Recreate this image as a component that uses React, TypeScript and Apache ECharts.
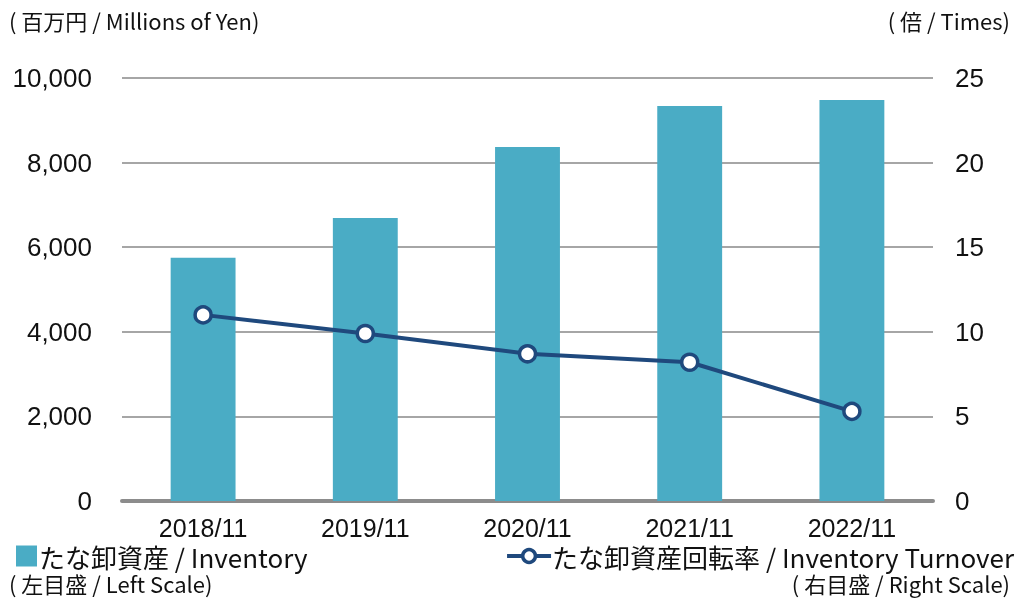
import React, { useEffect, useRef } from "react";
import * as echarts from "echarts";

const categories = ["2018/11", "2019/11", "2020/11", "2021/11", "2022/11"];
const inventory = [5750, 6690, 8370, 9340, 9480];
const turnover = [11.0, 9.9, 8.7, 8.2, 5.3];
const leftTicks = [0, 2000, 4000, 6000, 8000, 10000];
const rightTicks = [0, 5, 10, 15, 20, 25];

const barName = "たな卸資産 / Inventory";
const lineName = "たな卸資産回転率 / Inventory Turnover";
const jpFont = "'Noto Sans CJK JP', 'Noto Sans', sans-serif";
const numFont = "'Liberation Sans', Arial, sans-serif";

export default function App() {
  const ref = useRef<HTMLDivElement>(null);
  useEffect(() => {
    if (!ref.current) return;
    const chart = echarts.init(ref.current, null, { renderer: "svg" });
    chart.setOption({
      animation: false,
      grid: { left: 122, right: 82, top: 78, bottom: 97, containLabel: false },
      legend: [
        {
          data: [barName],
          left: 16,
          top: 543,
          padding: 0,
          itemWidth: 21,
          itemHeight: 21,
          icon: "rect",
          textStyle: { fontSize: 26, lineHeight: 24, color: "#111", fontFamily: jpFont, padding: [0, 0, 0, -3] },
          selectedMode: false,
        },
        {
          data: [lineName],
          right: 1,
          top: 543,
          padding: 0,
          itemWidth: 44,
          itemHeight: 16,
          lineStyle: { width: 4, color: "#1f497d" },
          itemStyle: { color: "#fff", borderColor: "#1f497d", borderWidth: 3.5 },
          textStyle: { fontSize: 26, lineHeight: 24, color: "#111", fontFamily: jpFont, padding: [0, 0, 0, -4] },
          selectedMode: false,
        },
      ],
      graphic: [
        { type: "text", left: 9, top: 9, style: { text: "( 百万円 / Millions of Yen)", fontSize: 22, fill: "#111", fontFamily: jpFont } },
        { type: "text", right: 5, top: 9, style: { text: "( 倍 / Times)", fontSize: 22, fill: "#111", fontFamily: jpFont } },
        { type: "text", left: 9, top: 572, style: { text: "( 左目盛 / Left Scale)", fontSize: 22, lineHeight: 22, fill: "#111", fontFamily: jpFont } },
        { type: "text", right: 5, top: 572, style: { text: "( 右目盛 / Right Scale)", fontSize: 22, lineHeight: 22, fill: "#111", fontFamily: jpFont } },
      ],
      xAxis: {
        type: "category",
        data: categories,
        axisTick: { show: false },
        axisLine: { lineStyle: { color: "#8c8c8c", width: 4 } },
        axisLabel: { fontSize: 25, lineHeight: 24, color: "#111", fontFamily: numFont, margin: 15 },
      },
      yAxis: [
        {
          type: "value",
          min: 0,
          max: 10000,
          interval: 2000,
          axisLine: { show: false },
          axisTick: { show: false },
          splitLine: { lineStyle: { color: "#a6a6a6", width: 2 } },
          axisLabel: {
            fontSize: 26,
            color: "#111",
            fontFamily: numFont,
            margin: 30,
            formatter: (v: number) => (leftTicks.includes(v) ? v.toLocaleString("en-US") : ""),
          },
        },
        {
          type: "value",
          min: 0,
          max: 25,
          interval: 5,
          axisLine: { show: false },
          axisTick: { show: false },
          splitLine: { show: false },
          axisLabel: {
            fontSize: 26,
            color: "#111",
            fontFamily: numFont,
            margin: 22,
            formatter: (v: number) => (rightTicks.includes(v) ? String(v) : ""),
          },
        },
      ],
      series: [
        {
          name: barName,
          type: "bar",
          data: inventory,
          barWidth: "40%",
          itemStyle: { color: "#4aacc5" },
          yAxisIndex: 0,
        },
        {
          name: lineName,
          type: "line",
          data: turnover,
          yAxisIndex: 1,
          symbol: "circle",
          symbolSize: 16,
          lineStyle: { color: "#1f497d", width: 4 },
          itemStyle: { color: "#fff", borderColor: "#1f497d", borderWidth: 3.5 },
        },
      ],
    });
    return () => chart.dispose();
  }, []);
  return <div ref={ref} style={{ width: 1015, height: 598, position: "fixed", left: 0, top: 0 }} />;
}
